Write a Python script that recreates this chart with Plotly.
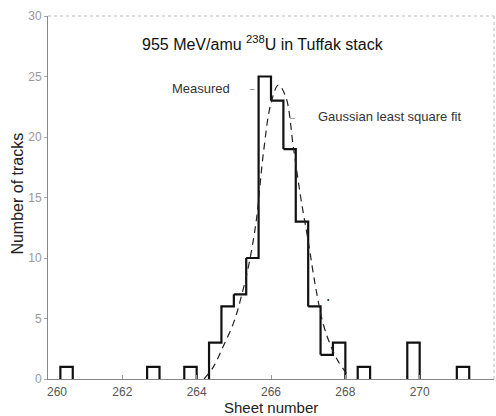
import plotly.graph_objects as go

# Histogram data (bins are 1/3 sheet wide)
bin_left = [260.333, 262.667, 263.667, 264.333, 264.667, 265.0, 265.333, 265.667,
            266.0, 266.333, 266.667, 267.0, 267.333, 267.667, 268.333, 269.667, 271.0]
counts = [1, 1, 1, 3, 6, 7, 10, 25, 23, 19, 13, 6, 2, 3, 1, 3, 1]
bin_width = 1.0 / 3.0

# Gaussian least-square fit curve
fit_x = [264.2, 264.45, 264.7, 265.0, 265.2, 265.4, 265.6, 265.8, 266.0, 266.2,
         266.4, 266.6, 266.8, 267.0, 267.2, 267.4, 267.6, 267.8, 268.1]
fit_y = [0.0, 1.0, 2.6, 4.7, 6.8, 9.4, 13.0, 18.8, 22.8, 24.3,
         23.3, 19.2, 15.0, 11.4, 7.6, 4.6, 2.8, 1.5, 0.2]

x_ticks = [260, 262, 264, 266, 268, 270, 272]
x_tick_text = ["\u2003\u2002260", "262", "264", "266", "268", "270", "272"]
y_ticks = [0, 5, 10, 15, 20, 25, 30]

# Build step outline of histogram, separate runs for non-contiguous bins
hx, hy = [], []
prev_right = None
for left, c in zip(bin_left, counts):
    right = left + bin_width
    if prev_right is not None and abs(left - prev_right) < 1e-3:
        hx += [left, right]
        hy += [c, c]
    else:
        if prev_right is not None:
            hx += [prev_right, None]
            hy += [0, None]
        hx += [left, left, right]
        hy += [0, c, c]
    prev_right = right
hx += [prev_right]
hy += [0]
sx, sy = [], []
for i in range(len(hx)):
    if i > 0 and hx[i] is not None and hx[i - 1] is not None and hy[i] != hy[i - 1] and hx[i] != hx[i - 1]:
        sx.append(hx[i - 1]); sy.append(hy[i])
    sx.append(hx[i]); sy.append(hy[i])

FONT = "Liberation Sans"

fig = go.Figure()
fig.add_trace(go.Scatter(x=sx, y=sy, mode="lines",
                         line=dict(color="#111", width=2.2), showlegend=False,
                         hoverinfo="skip"))
fig.add_trace(go.Scatter(x=fit_x, y=fit_y, mode="lines", line_shape="spline",
                         line=dict(color="#222", width=1.2, dash="7px,5px"),
                         showlegend=False, hoverinfo="skip"))

fig.update_layout(
    width=496, height=416,
    margin=dict(l=48, r=2, t=16, b=37),
    paper_bgcolor="white", plot_bgcolor="white",
    font=dict(family=FONT, color="#222"),
    xaxis=dict(range=[260, 272], tickvals=x_ticks, ticktext=x_tick_text,
               showgrid=False, zeroline=False,
               showline=True, linecolor="#888", linewidth=1,
               ticks="inside", ticklen=4, tickcolor="#999",
               ticklabelstandoff=2,
               tickfont=dict(size=12, color="#555", family=FONT)),
    yaxis=dict(range=[0, 30], tickvals=y_ticks, showgrid=False, zeroline=False,
               showline=True, linecolor="#888", linewidth=1,
               ticks="outside", ticklen=3, tickcolor="#aaa",
               tickfont=dict(size=12, color="#999", family=FONT)),
    shapes=[
        dict(type="line", xref="paper", yref="paper", x0=0, x1=1, y0=1, y1=1,
             line=dict(color="#bbb", width=1, dash="dot")),
        dict(type="line", xref="paper", yref="paper", x0=1, x1=1, y0=0, y1=1,
             line=dict(color="#bbb", width=1, dash="dot")),
    ],
    annotations=[
        dict(x=265.78, y=27.8, xref="x", yref="y", showarrow=False,
             text="955 MeV/amu <sup>238</sup>U in Tuffak stack",
             font=dict(size=16, color="#111", family=FONT)),
        dict(x=264.94, y=24.05, xref="x", yref="y", showarrow=False, xanchor="right",
             text="Measured", font=dict(size=13, color="#333", family=FONT)),
        dict(x=265.51, y=24.05, xref="x", yref="y", showarrow=False,
             text="–", font=dict(size=8, color="#333", family=FONT)),
        dict(x=267.20, y=21.7, xref="x", yref="y", showarrow=False, xanchor="left",
             text="Gaussian least square fit", font=dict(size=13, color="#333", family=FONT)),
        dict(x=266.58, y=21.6, xref="x", yref="y", showarrow=False,
             text="–", font=dict(size=8, color="#333", family=FONT)),
        dict(x=267.54, y=6.59, xref="x", yref="y", showarrow=False,
             text="•", font=dict(size=7, color="#222", family=FONT)),
        dict(x=0.5, y=-0.078, xref="paper", yref="paper", showarrow=False,
             yanchor="middle", text="Sheet number",
             font=dict(size=15, color="#222", family=FONT)),
        dict(x=-0.092, y=0.512, xref="paper", yref="paper", showarrow=False,
             textangle=-90, text="Number of tracks",
             font=dict(size=16, color="#222", family=FONT)),
    ],
)

fig.write_html("out.html")
